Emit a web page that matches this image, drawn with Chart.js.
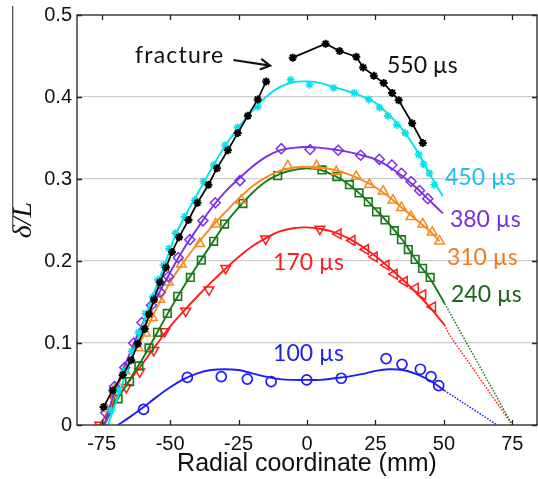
<!DOCTYPE html>
<html><head><meta charset="utf-8">
<script src="https://cdn.jsdelivr.net/npm/chart.js@4/dist/chart.umd.min.js"></script>
<style>html,body{margin:0;padding:0;background:#fff;}#wrap{width:538px;height:479px;}</style>
</head><body><div id="wrap"><canvas id="c" width="538" height="479"></canvas></div>
<script>
// ---- axis ticks ----
const xTicks = [-75, -50, -25, 0, 25, 50, 75];
const yTicks = [0, 0.1, 0.2, 0.3, 0.4, 0.5];
const xTitle = 'Radial coordinate (mm)';
const yTitle = 'δ/L';

// ---- 550 µs (measured, black asterisks; null = fracture gap) ----
const s550X = [-74.3,-71,-67.3,-64.2,-61.8,-59.3,-57.7,-55.9,-53.7,-51.5,-49.3,-46.7,-43.3,-40,-36,-32.9,-28.9,-25.3,-21.6,-18,-14.9,-10,-5.2,6.8,11.9,18,20.5,24.4,28,31.1,33.5,38.4,42.3];
const s550Y = [0.022,0.042,0.061,0.079,0.099,0.117,0.135,0.153,0.174,0.192,0.211,0.229,0.25,0.271,0.293,0.313,0.335,0.356,0.377,0.397,0.419,null,0.448,0.465,0.456,0.449,0.436,0.426,0.417,0.405,0.396,0.368,0.344];

// ---- 450 µs ----
const s450X = [-71.5,-69,-66.5,-64,-61.5,-59,-56.3,-54.4,-52.4,-50.4,-48,-44.7,-41,-37.8,-34.1,-29.9,-25.3,-18,-6,0.9,9.7,17.3,22.6,26.5,29.5,32.8,35.9,40.8,42.6,44.7,46.5];
const s450Y = [0.018,0.042,0.066,0.09,0.113,0.136,0.156,0.177,0.195,0.215,0.234,0.254,0.274,0.297,0.317,0.341,0.363,0.388,0.421,0.415,0.411,0.405,0.397,0.387,0.377,0.366,0.356,0.33,0.318,0.307,0.293];
const f450X = [-72.7,-68,-64,-60,-56,-52,-48,-44,-40,-35,-30,-25,-20,-15,-10,-5,0,5,10,15,20,25,30,35,40,45,49.6];
const f450Y = [0,0.045,0.083,0.122,0.16,0.195,0.232,0.258,0.282,0.312,0.34,0.363,0.383,0.4,0.412,0.418,0.419,0.417,0.412,0.407,0.401,0.393,0.378,0.36,0.335,0.305,0.279];

// ---- 380 µs ----
const s380X = [-73.5,-70.3,-66.6,-63.3,-60.3,-56.8,-53.6,-50.6,-47,-42.8,-38,-33.5,-24.5,-9.4,1.1,11.4,19.6,26.4,31,34.5,38,41.1,44.1];
const s380Y = [0.015,0.047,0.07,0.1,0.125,0.146,0.162,0.181,0.204,0.226,0.249,0.271,0.298,0.337,0.336,0.335,0.329,0.324,0.317,0.307,0.297,0.286,0.276];
const f380X = [-74,-70,-65,-60,-55,-50,-45,-40,-35,-30,-25,-20,-15,-10,-5,0,5,10,15,20,25,30,35,40,45,49.6];
const f380Y = [0,0.043,0.085,0.124,0.155,0.186,0.215,0.24,0.264,0.284,0.3,0.315,0.327,0.335,0.338,0.339,0.338,0.336,0.333,0.329,0.324,0.315,0.303,0.289,0.273,0.258];

// ---- 310 µs ----
const s310X = [-73.3,-70,-66.5,-61.7,-59,-56.5,-53.8,-50.6,-45.9,-39.2,-33.4,-24,-7,3.5,10.7,18,22.8,27.8,31.4,34.5,38,42.3,45.7,48.4];
const s310Y = [0.02,0.045,0.066,0.094,0.112,0.131,0.153,0.174,0.196,0.221,0.245,0.274,0.316,0.316,0.309,0.303,0.293,0.285,0.274,0.265,0.254,0.245,0.235,0.224];
const f310X = [-74,-70,-65,-60,-55,-50,-45,-40,-35,-30,-25,-20,-15,-10,-5,0,5,10,15,20,25,30,35,40,45,48.4];
const f310Y = [0,0.04,0.077,0.107,0.142,0.174,0.199,0.221,0.241,0.259,0.276,0.291,0.302,0.31,0.314,0.315,0.314,0.311,0.306,0.299,0.29,0.278,0.264,0.25,0.236,0.224];

// ---- 240 µs ----
const s240X = [-69,-64.8,-61.4,-57.7,-54.6,-51,-47.2,-42.6,-38.6,-34.1,-30.1,-23.4,-10.7,5.5,10.9,15.5,19,22.4,25.4,28.5,31.9,34.5,37,39.5,42.2,45];
const s240Y = [0.032,0.053,0.072,0.094,0.113,0.136,0.157,0.18,0.201,0.224,0.245,0.27,0.304,0.311,0.303,0.293,0.283,0.272,0.26,0.25,0.237,0.226,0.214,0.202,0.191,0.18];
const f240X = [-74,-70,-65,-60,-55,-50,-45,-40,-35,-30,-25,-20,-15,-10,-5,0,5,10,15,20,25,30,35,40,45,50.3];
const f240Y = [0,0.027,0.054,0.081,0.111,0.141,0.169,0.195,0.22,0.245,0.265,0.283,0.297,0.306,0.311,0.313,0.311,0.304,0.294,0.28,0.263,0.245,0.225,0.2,0.178,0.148];
const e240X = [50.3,75];
const e240Y = [0.148,0];

// ---- 170 µs ----
const s170X = [-75.7,-70.3,-66,-61.1,-56,-52,-44.3,-35.8,-29.7,-15.1,4.7,11.4,16.5,21.4,24.6,28.9,31.9,35.6,39.6,42.3,45.9];
const s170Y = [0,0.032,0.046,0.065,0.091,0.114,0.139,0.165,0.191,0.227,0.239,0.233,0.225,0.214,0.205,0.195,0.184,0.175,0.167,0.159,0.144];
const f170X = [-75.7,-70,-65,-60,-55,-50,-45,-40,-35,-30,-25,-20,-15,-10,-5,0,5,10,15,20,25,30,35,40,45,50.2];
const f170Y = [0,0.03,0.053,0.075,0.098,0.12,0.139,0.157,0.174,0.19,0.205,0.218,0.228,0.236,0.24,0.241,0.239,0.235,0.228,0.218,0.206,0.192,0.177,0.161,0.143,0.122];
const e170X = [50.2,52,75];
const e170Y = [0.122,0.11,0];

// ---- 100 µs ----
const s100X = [-59.7,-43.7,-31.3,-21.8,-13.1,-0.1,12.5,28.9,34.7,41.4,45.3,48.1];
const s100Y = [0.019,0.058,0.059,0.056,0.053,0.055,0.057,0.081,0.074,0.068,0.059,0.048];
const f100X = [-69,-65,-60,-55,-50,-45,-40,-35,-30,-25,-20,-15,-10,-5,0,5,10,15,20,25,30,35,40,45,50.2];
const f100Y = [0,0.009,0.021,0.034,0.046,0.056,0.063,0.067,0.068,0.067,0.063,0.059,0.056,0.055,0.055,0.055,0.057,0.059,0.062,0.066,0.068,0.067,0.062,0.054,0.042];
const e100X = [50.2,69.5];
const e100Y = [0.042,0];

// ---- series labels ----
const seriesLabels = ['550 µs','450 µs','380 µs','310 µs','240 µs','170 µs','100 µs'];

function pts(xs, ys) { return xs.map((x, i) => ({x: x, y: ys[i]})); }

const C = {
  k: '#000000', cyan: '#00e3ee', purple: '#7b2fe6', orange: '#f58a1f',
  green: '#177a17', red: '#ff1c1c', blue: '#1c1cff'
};
const none = 'rgba(0,0,0,0)';

function fit(xs, ys, color, w) {
  return {data: pts(xs, ys), showLine: true, borderColor: color, backgroundColor: color,
    borderWidth: w || 1.9, pointRadius: 0, pointHoverRadius: 0, tension: 0.4};
}
function ext(xs, ys, color) {
  return {data: pts(xs, ys), showLine: true, borderColor: color, borderWidth: 1.5,
    borderDash: [1.5, 1.5], pointRadius: 0, tension: 0};
}
function mk(xs, ys, color, style, r, bw, rot) {
  return {data: pts(xs, ys), showLine: false, pointStyle: style, pointRadius: r,
    pointBorderWidth: bw, pointBorderColor: color, pointBackgroundColor: none,
    pointRotation: rot || 0, borderColor: color};
}

const datasets = [
  {label: seriesLabels[0], data: pts(s550X, s550Y), showLine: true, spanGaps: false,
   borderColor: C.k, borderWidth: 1.7, tension: 0, pointStyle: 'star', pointRadius: 4,
   pointBorderWidth: 2, pointBorderColor: C.k, pointBackgroundColor: C.k},
  mk(s450X, s450Y, C.cyan, 'star', 4, 1.6),
  fit(f450X, f450Y, C.cyan),
  mk(s380X, s380Y, C.purple, 'rectRot', 5, 1.5),
  fit(f380X, f380Y, C.purple),
  mk(s310X, s310Y, C.orange, 'triangle', 5.6, 1.5),
  fit(f310X, f310Y, C.orange),
  mk(s240X, s240Y, C.green, 'rect', 5.4, 1.6),
  fit(f240X, f240Y, C.green),
  ext(e240X, e240Y, C.green),
  {data: pts(s170X, s170Y), showLine: false, pointStyle: 'triangle', pointRadius: 5.6,
   pointBorderWidth: 1.5, pointBorderColor: C.red, pointBackgroundColor: none,
   pointRotation: (c) => (c.raw && c.raw.x > 8 ? 270 : 180)},
  fit(f170X, f170Y, C.red),
  ext(e170X, e170Y, C.red),
  mk(s100X, s100Y, C.blue, 'circle', 5, 1.7),
  fit(f100X, f100Y, C.blue),
  ext(e100X, e100Y, C.blue)
];

// text annotations: [text, colour, x (mm), baseline y, letter spacing]
const annotations = [
  [seriesLabels[0], '#111111', 29.2, 0.4293, 0],
  [seriesLabels[1], '#1fbcf0', 50.4, 0.2927, 0],
  [seriesLabels[2], '#7433d8', 52.2, 0.2415, 0],
  [seriesLabels[3], '#ee7d20', 51.1, 0.195, 0],
  [seriesLabels[4], '#17651a', 52.6, 0.150, 0],
  [seriesLabels[5], '#fb1c1c', -12.4, 0.189, 0],
  [seriesLabels[6], '#2222e8', -12.4, 0.078, 0],
  ['fracture', '#111111', -62.8, 0.441, 1.2]
];
const arrowFrom = {x: -26.9, y: 0.4451};
const arrowTo = {x: -13.5, y: 0.4382};

const decor = {
  id: 'decor',
  afterDatasetsDraw(chart) {
    const {ctx, chartArea: a, scales: {x, y}} = chart;
    ctx.save();
    // frame
    ctx.strokeStyle = '#222'; ctx.lineWidth = 1.3;
    ctx.strokeRect(a.left, a.top, a.right - a.left, a.bottom - a.top);
    const L = 5;
    ctx.beginPath();
    xTicks.forEach(v => { const p = Math.round(x.getPixelForValue(v)) + 0.5;
      ctx.moveTo(p, a.bottom); ctx.lineTo(p, a.bottom - L);
      ctx.moveTo(p, a.top); ctx.lineTo(p, a.top + L); });
    yTicks.forEach(v => { const p = Math.round(y.getPixelForValue(v)) + 0.5;
      ctx.moveTo(a.left, p); ctx.lineTo(a.left + L, p);
      ctx.moveTo(a.right, p); ctx.lineTo(a.right - L, p); });
    ctx.stroke();
    // labels
    ctx.font = '23px Lato';
    ctx.textAlign = 'left'; ctx.textBaseline = 'alphabetic';
    annotations.forEach(([t, col, ax, ay, ls]) => {
      ctx.fillStyle = col;
      ctx.letterSpacing = ls + 'px';
      ctx.fillText(t, x.getPixelForValue(ax), y.getPixelForValue(ay));
    });
    ctx.letterSpacing = '0px';
    // arrow
    const x0 = x.getPixelForValue(arrowFrom.x), y0 = y.getPixelForValue(arrowFrom.y);
    const x1 = x.getPixelForValue(arrowTo.x), y1 = y.getPixelForValue(arrowTo.y);
    const ang = Math.atan2(y1 - y0, x1 - x0), hl = 11, hw = 0.5;
    ctx.strokeStyle = '#111'; ctx.lineWidth = 2.2;
    ctx.beginPath(); ctx.moveTo(x0, y0); ctx.lineTo(x1, y1);
    ctx.moveTo(x1 - hl * Math.cos(ang - hw), y1 - hl * Math.sin(ang - hw));
    ctx.lineTo(x1, y1);
    ctx.lineTo(x1 - hl * Math.cos(ang + hw), y1 - hl * Math.sin(ang + hw));
    ctx.stroke();
    ctx.restore();
  },
  afterDraw(chart) {
    const ctx = chart.ctx;
    ctx.save();
    ctx.strokeStyle = '#555'; ctx.lineWidth = 1.3;
    ctx.beginPath(); ctx.moveTo(12.7, 6); ctx.lineTo(12.7, 230); ctx.stroke();
    ctx.restore();
  }
};

new Chart(document.getElementById('c'), {
  type: 'scatter',
  data: {datasets: datasets},
  plugins: [decor],
  options: {
    responsive: false, animation: false, devicePixelRatio: 1,
    layout: {autoPadding: false, padding: {top: 15, right: 1, left: 0, bottom: 0}},
    plugins: {legend: {display: false}, tooltip: {enabled: false}},
    scales: {
      x: {
        type: 'linear', min: -84, max: 84,
        afterBuildTicks: s => { s.ticks = xTicks.map(v => ({value: v})); },
        afterFit: s => { s.height = 54; s.paddingLeft = 0; s.paddingRight = 0; },
        grid: {display: false, drawTicks: false},
        border: {display: false},
        ticks: {color: '#111', font: {family: 'Liberation Sans', size: 20}, padding: 7,
                callback: v => String(v), maxRotation: 0, autoSkip: false},
        title: {display: true, text: xTitle, color: '#111',
                font: {family: 'Liberation Sans', size: 25, lineHeight: 1}, padding: {top: 0, bottom: 2}}
      },
      y: {
        type: 'linear', min: 0, max: 0.5,
        afterBuildTicks: s => { s.ticks = yTicks.map(v => ({value: v})); },
        afterFit: s => { s.width = 77; s.paddingTop = 0; s.paddingBottom = 0; },
        grid: {drawTicks: false, lineWidth: 1.2,
               color: c => (c.tick && c.tick.value > 0.05 && c.tick.value < 0.45 ? '#cdcdcd' : none)},
        border: {display: false},
        ticks: {color: '#111', font: {family: 'Liberation Sans', size: 20}, padding: 5,
                callback: v => String(Math.round(v * 10) / 10)},
        title: {display: true, text: yTitle, color: '#111',
                font: {family: 'Liberation Serif', style: 'italic', size: 28, lineHeight: 1}, padding: {top: 10, bottom: 0}}
      }
    }
  }
});
</script>
</body></html>
